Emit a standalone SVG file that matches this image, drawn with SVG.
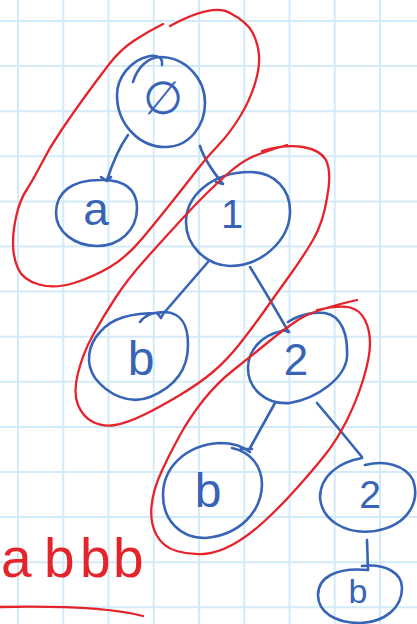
<svg xmlns="http://www.w3.org/2000/svg" width="417" height="624" viewBox="0 0 417 624">
<style>
.grid{stroke:#d3ebf8;stroke-width:2;fill:none}
.blue{stroke:#3764b6;stroke-width:2.6;fill:none;stroke-linecap:round;stroke-linejoin:round}
.red{stroke:#e5232a;stroke-width:2.3;fill:none;stroke-linecap:round;stroke-linejoin:round}
.lbl{font-family:"Liberation Sans",Arial,sans-serif;fill:#3764b6;text-anchor:middle}
.rtxt{font-family:"Liberation Sans",Arial,sans-serif;fill:#e5232a;font-size:55px}
</style>
<rect width="417" height="624" fill="#ffffff"/>
<g id="grid">
<path class="grid" d="M18,0V624M63.25,0V624M108.5,0V624M153.75,0V624M199,0V624M244.25,0V624M289.5,0V624M334.75,0V624M380,0V624M0,21H417M0,66.1H417M0,111.2H417M0,156.3H417M0,201.4H417M0,246.5H417M0,291.6H417M0,336.7H417M0,381.8H417M0,426.9H417M0,472H417M0,517.1H417M0,562.2H417M0,607.3H417"/>
</g>
<g id="connectors">
<path class="blue" d="M128,135 Q116,152 107,180 M101,177 L107,181 L111,177"/>
<path class="blue" d="M200,146 Q205,162 223,184 M216,182 L223,184"/>
<path class="blue" d="M208,262 L163,314 M157,313 L161,318 L164,312"/>
<path class="blue" d="M250,267 Q268,296 288,331 M283,330 L289,332"/>
<path class="blue" d="M275,403 L250,448 M241,449 L252,449"/>
<path class="blue" d="M317,403 Q340,430 362,457"/>
<path class="blue" d="M367,540 L368,570"/>
</g>
<g id="node-root">
<path class="blue" d="M162,65 C163,58 158,55 150,56 C130,60 117,78 117,95 C117,125 140,147 165,147 C190,147 205,125 205,103 C205,78 185,57 160,57 C148,57 137,68 133,82"/>
<text class="lbl" x="163" y="114" font-size="46" font-family="DejaVu Sans">∅</text>
</g>
<g id="node-a">
<path class="blue" d="M100,180 C125,179 137,190 137,208 C137,230 120,246 97,246 C75,246 56,232 56,213 C56,192 72,180 100,180 Z"/>
<text class="lbl" x="96" y="225" font-size="46">a</text>
</g>
<g id="node-1">
<path class="blue" d="M250,172 C275,172 291,190 290,213 C289,240 262,266 230,266 C205,265 186,245 186,222 C186,196 212,172 250,172 Z"/>
<text class="lbl" x="232" y="228" font-size="40">1</text>
</g>
<g id="node-b1">
<path class="blue" d="M140,322 C145,315 155,312 165,312 C182,313 188,325 188,345 C188,372 172,388 150,397 C130,405 108,395 95,378 C85,363 88,345 100,332 C112,318 130,313 160,313"/>
<text class="lbl" x="141" y="375" font-size="48">b</text>
</g>
<g id="node-2a">
<path class="blue" d="M288,322 C300,314 315,312 325,313 C342,316 348,335 347,357 C345,378 318,398 290,403 C265,405 248,388 248,368 C248,350 262,335 282,331"/>
<text class="lbl" x="296" y="375" font-size="44">2</text>
</g>
<g id="node-b2">
<path class="blue" d="M232,448 C250,452 262,465 262,485 C261,512 240,535 205,538 C180,538 163,520 163,495 C163,468 185,445 220,443 C235,443 245,448 250,452"/>
<text class="lbl" x="208" y="507" font-size="48">b</text>
</g>
<g id="node-2b">
<path class="blue" d="M365,465 C385,460 405,465 413,480 C420,500 410,525 375,531 C345,535 322,520 320,498 C320,475 340,462 362,458"/>
<text class="lbl" x="370" y="508" font-size="39">2</text>
</g>
<g id="node-b3">
<path class="blue" d="M362,566 C385,563 402,573 402,588 C402,608 385,622 360,623 C335,623 318,612 318,595 C318,578 335,567 368,570"/>
<text class="lbl" x="358" y="603" font-size="34">b</text>
</g>
<g id="annotations">
<path class="red" d="M170,26 Q213,3 230,13 Q247,22 252.5,32.5 Q258,43 259,55 Q260,67 255,83.5 Q250,100 240,116.5 Q230,133 218.5,145 Q207,157 197,170 Q187,183 173.5,200 Q160,217 143.5,237 Q127,257 110,267 Q93,277 74,283 Q55,289 39,284.5 Q23,280 18,268.5 Q13,257 13,243.5 Q13,230 16.5,215 Q20,200 26.5,190 Q33,180 41.5,163.5 Q50,147 61.5,130 Q73,113 85,96.5 Q97,80 108.5,65 Q120,50 133.5,41 Q147,32 163,24"/>
<path class="red" d="M287,145 Q260,153 250,158 Q240,163 228.5,173 Q217,183 205,195 Q193,207 176.5,225 Q160,243 143.5,261.5 Q127,280 115,298.5 Q103,317 93,335 Q83,353 78,373 Q73,393 78,405 Q83,417 93,422 Q103,427 115,425 Q127,423 143.5,415 Q160,407 180,395 Q200,383 213.5,371.5 Q227,360 240,343.5 Q253,327 265,310 Q277,293 290,275 Q303,257 313,240 Q323,223 327,198 Q332,173 326,160 Q320,150 303,147 Q285,144 262,151"/>
<path class="red" d="M357,300 Q313,310 298,320 Q283,330 266.5,343.5 Q250,357 233.5,370 Q217,383 203.5,400 Q190,417 180,435 Q170,453 161.5,471.5 Q153,490 151.5,506.5 Q150,523 156.5,535 Q163,547 176.5,551 Q190,555 203.5,554 Q217,553 232,545 Q247,537 263.5,522 Q280,507 296.5,488.5 Q313,470 325,455 Q337,440 347,420 Q357,400 363.5,378.5 Q370,357 370,343.5 Q370,330 365,320 Q360,310 350,307.5 Q340,305 317,310"/>
<path class="red" d="M0,607 Q100,605 143,616"/>
<text class="rtxt" x="1 20 44 80 113" y="577">a bbb</text>
</g>
</svg>
